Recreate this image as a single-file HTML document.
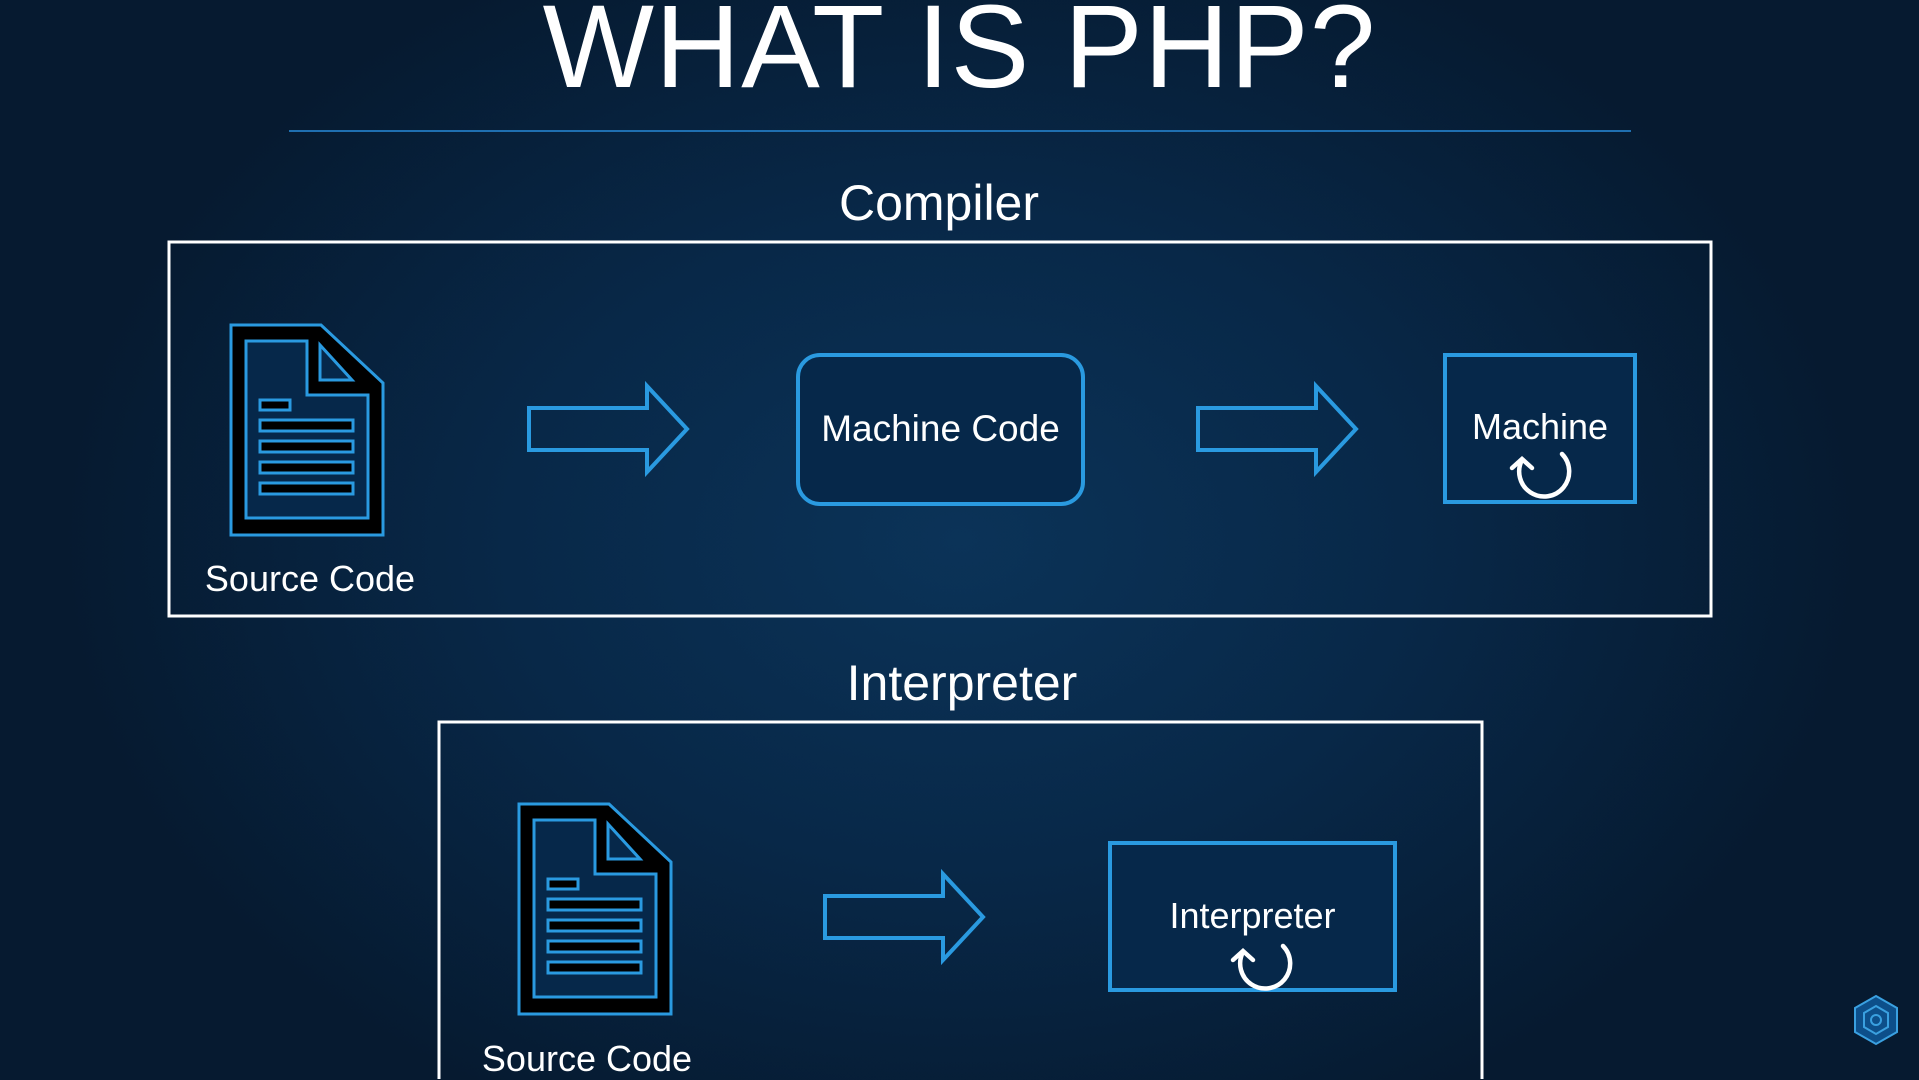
<!DOCTYPE html>
<html><head><meta charset="utf-8"><style>
html,body{margin:0;padding:0}
body{width:1919px;height:1079px;overflow:hidden;position:relative;font-family:"Liberation Sans",Arial,sans-serif;color:#fff;
background:radial-gradient(ellipse 900px 650px at 960px 540px,#0b3358 0%,#082848 50%,#061a30 100%);}
.t{position:absolute;white-space:nowrap;text-align:center}
</style></head><body>
<div class="t" style="left:0;width:1919px;top:-23px;font-size:118px;line-height:140px;letter-spacing:1px">WHAT IS PHP?</div>
<div style="position:absolute;left:289px;top:130px;width:1342px;height:2px;background:#1f6fb0"></div>
<div class="t" style="left:739px;width:400px;top:175px;font-size:50px;line-height:56px">Compiler</div>
<div class="t" style="left:762px;width:400px;top:655px;font-size:50px;line-height:56px">Interpreter</div>
<svg width="1919" height="1079" style="position:absolute;left:0;top:0">
<defs>
<g id="doc">
<path d="M0,0 H90 L152,58 V210 H0 Z" fill="#000" stroke="#2a9ae0" stroke-width="3"/>
<path d="M15,16 H76 V70 H137 V193 H15 Z" fill="#06284a" stroke="#2a9ae0" stroke-width="3"/>
<path d="M89,20 V55 H121 Z" fill="#06284a" stroke="#2a9ae0" stroke-width="3"/>
<g fill="#000" stroke="#2a9ae0" stroke-width="3">
<rect x="29" y="75" width="30" height="10"/>
<rect x="29" y="95" width="93" height="11"/>
<rect x="29" y="116" width="93" height="11"/>
<rect x="29" y="137" width="93" height="11"/>
<rect x="29" y="158" width="93" height="11"/>
</g></g>
<path id="arr" d="M0,22 H118 V0 L158,43 L118,86 V64 H0 Z" fill="none" stroke="#2a9ae0" stroke-width="4"/>
<g id="circ" fill="none" stroke="#fff" stroke-width="4.5" stroke-linecap="round">
<path d="M20,-16 A25,25 0 1 1 -20,-10"/>
<path d="M-30,-2 L-20,-11 L-10,-2"/>
</g>
</defs>
<rect x="169" y="242" width="1542" height="374" fill="none" stroke="#fff" stroke-width="3"/>
<rect x="439" y="722" width="1043" height="400" fill="none" stroke="#fff" stroke-width="3"/>
<use href="#doc" x="231" y="325"/>
<use href="#doc" x="519" y="804"/>
<use href="#arr" x="529" y="386"/>
<use href="#arr" x="1198" y="386"/>
<use href="#arr" x="825" y="874"/>
<rect x="798" y="355" width="285" height="149" rx="22" fill="#06284a" stroke="#2a9ae0" stroke-width="4"/>
<rect x="1445" y="355" width="190" height="147" fill="#06284a" stroke="#2a9ae0" stroke-width="4"/>
<rect x="1110" y="843" width="285" height="147" fill="#06284a" stroke="#2a9ae0" stroke-width="4"/>
<use href="#circ" x="1542" y="470"/>
<use href="#circ" x="1263" y="962"/>
<g transform="translate(1876,1020)" fill="none" stroke="#3aa0e0" stroke-width="2">
<polygon points="0,-24 21,-12 21,12 0,24 -21,12 -21,-12" fill="#0d4f8a"/>
<polygon points="0,-14 12,-7 12,7 0,14 -12,7 -12,-7"/>
<circle r="5"/>
</g>
</svg>
<div class="t" style="left:160px;width:300px;top:558px;font-size:36px;line-height:42px">Source Code</div>
<div class="t" style="left:437px;width:300px;top:1038px;font-size:36px;line-height:42px">Source Code</div>
<div class="t" style="left:798px;width:285px;top:408px;font-size:37px;line-height:42px">Machine Code</div>
<div class="t" style="left:1445px;width:190px;top:406px;font-size:36px;line-height:42px">Machine</div>
<div class="t" style="left:1110px;width:285px;top:895px;font-size:36px;line-height:42px">Interpreter</div>
</body></html>
